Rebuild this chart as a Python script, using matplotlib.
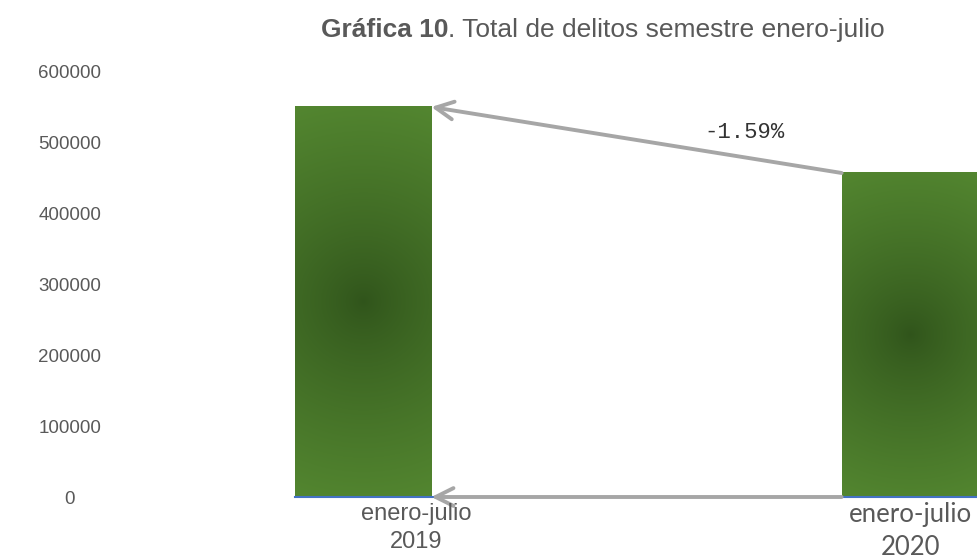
import numpy as np
import matplotlib.pyplot as plt

# Datos
periodos = ['enero-julio\n2019', 'enero-julio\n2020']
total_delitos = [550600, 457400]
etiqueta_cambio = '-1.59%'
y_ticks = [0, 100000, 200000, 300000, 400000, 500000, 600000]

gris_texto = '#595959'
gris_flecha = '#a6a6a6'
verde_borde = np.array([83, 134, 48]) / 255
verde_centro = np.array([48, 84, 27]) / 255

fig = plt.figure(figsize=(9.77, 5.6), dpi=100)
ax = fig.add_axes([0.0921, 0.1125, 0.9079, 0.759])

pos = np.arange(len(total_delitos))
ancho = 0.25
ax.set_xlim(-0.499, 1.1225)
ax.set_ylim(0, 600000)


def barra_degradado(ax, x, w, h):
    # degradado radial (circular en pixeles) recortado a la barra
    p0 = ax.transData.transform((x - w / 2, 0))
    p1 = ax.transData.transform((x + w / 2, h))
    wpx, hpx = p1[0] - p0[0], p1[1] - p0[1]
    nx, ny = int(wpx) + 1, int(hpx) + 1
    xx, yy = np.meshgrid(np.linspace(-wpx / 2, wpx / 2, nx),
                         np.linspace(-hpx / 2, hpx / 2, ny))
    d = np.sqrt(xx ** 2 + yy ** 2) / np.hypot(wpx / 2, hpx / 2)
    t = np.clip(d, 0, 1) ** 0.8
    img = verde_centro * (1 - t)[..., None] + verde_borde * t[..., None]
    ax.imshow(img, extent=(x - w / 2, x + w / 2, 0, h), aspect='auto',
              origin='lower', zorder=2, interpolation='bilinear')


for x, v in zip(pos, total_delitos):
    barra_degradado(ax, x, ancho, v)

ax.set_xlim(-0.499, 1.1225)
ax.set_ylim(0, 600000)

# linea base azul bajo las barras
ax.plot([pos[0] - ancho / 2, 1.1225], [0, 0], color='#4472c4', lw=1.5,
        zorder=3, clip_on=False)

# flechas
for y0, y1 in [(total_delitos[1], total_delitos[0]), (0, 0)]:
    ax.annotate('', xy=(pos[0] + ancho / 2, y1),
                xytext=(pos[1] - ancho / 2, y0),
                arrowprops=dict(arrowstyle='->', color=gris_flecha, lw=2.8,
                                mutation_scale=32, shrinkA=0, shrinkB=0),
                zorder=4, annotation_clip=False)

ax.text(0.698, 514000, etiqueta_cambio, family='Liberation Mono', fontsize=16,
        color='#333333', ha='center', va='center')

# ejes
for s in ax.spines.values():
    s.set_visible(False)
ax.set_xticks([])
ax.set_yticks(y_ticks)
ax.set_yticklabels([str(t) for t in y_ticks])
ax.tick_params(axis='y', length=0, pad=14.4, labelsize=13.5, labelcolor=gris_texto)
for lbl in ax.get_yticklabels():
    lbl.set_horizontalalignment('center')
    lbl.set_family('Liberation Sans')

# etiquetas de categoria
fig.text(416 / 977, 1 - 528 / 560, periodos[0], ha='center', va='center',
         family='Liberation Sans', fontsize=17, color=gris_texto, linespacing=1.3)
fig.text(910 / 977, 1 - 531 / 560, periodos[1], ha='center', va='center',
         family='Lato', fontsize=18.5, color=gris_texto, linespacing=1.4)

# titulo: parte en negrita + resto
yt = 1 - 30 / 560
t1 = fig.text(0, yt, 'Gráfica 10', fontweight='bold', family='Liberation Sans',
              fontsize=19, color=gris_texto, ha='left', va='center')
t2 = fig.text(0, yt, '. Total de delitos semestre enero-julio',
              family='Liberation Sans', fontsize=19, color=gris_texto,
              ha='left', va='center')
fig.canvas.draw()
w1 = t1.get_window_extent().width
w2 = t2.get_window_extent().width
x0 = 603 - (w1 + w2) / 2
t1.set_x(x0 / 977)
t2.set_x((x0 + w1) / 977)

fig.savefig('out.png', dpi=100)
